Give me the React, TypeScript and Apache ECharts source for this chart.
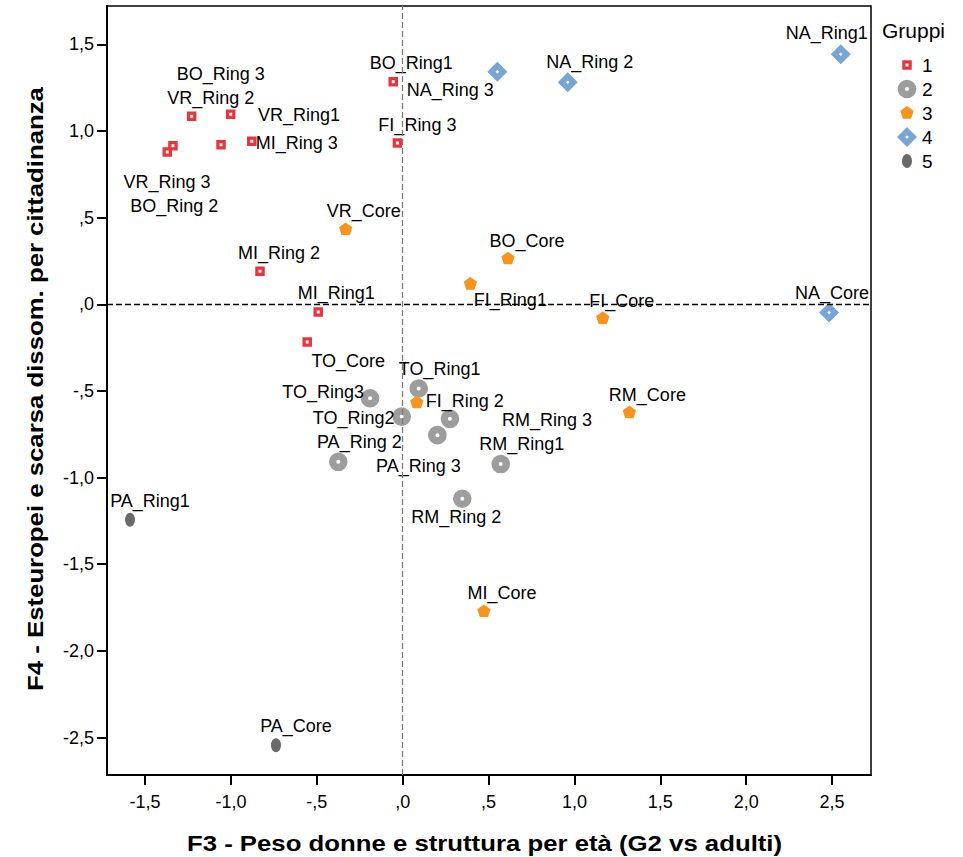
import React, { useEffect, useRef } from "react";
import * as echarts from "echarts";

const FONT = '"Liberation Sans", Arial, sans-serif';

const X_TICKS = [-1.5, -1, -0.5, 0, 0.5, 1, 1.5, 2, 2.5];
const X_TICK_LABELS = ["-1,5", "-1,0", "-,5", ",0", ",5", "1,0", "1,5", "2,0", "2,5"];
const Y_TICKS = [-2.5, -2, -1.5, -1, -0.5, 0, 0.5, 1, 1.5];
const Y_TICK_LABELS = ["-2,5", "-2,0", "-1,5", "-1,0", "-,5", ",0", ",5", "1,0", "1,5"];

const X_TITLE = "F3 - Peso donne e struttura per età (G2 vs adulti)";
const Y_TITLE = "F4 - Esteuropei e scarsa dissom. per cittadinanza";
const LEGEND_TITLE = "Gruppi";

const GROUPS = ["1", "2", "3", "4", "5"];

const G1_NAMES = ["BO_Ring1", "FI_Ring 3", "BO_Ring 3", "VR_Ring 2", "VR_Ring1", "MI_Ring 3", "VR_Ring 3", "BO_Ring 2", "MI_Ring 2", "MI_Ring1", "TO_Core"];
const G1_X = [-0.055, -0.031, -1.229, -1.002, -1.058, -0.879, -1.338, -1.371, -0.831, -0.492, -0.556];
const G1_Y = [1.284, 0.931, 1.085, 1.097, 0.92, 0.94, 0.914, 0.878, 0.19, -0.044, -0.217];

const G2_NAMES = ["TO_Ring1", "TO_Ring3", "TO_Ring2", "RM_Ring 3", "PA_Ring 3", "PA_Ring 2", "RM_Ring1", "RM_Ring 2"];
const G2_X = [0.093, -0.19, -0.006, 0.275, 0.202, -0.375, 0.571, 0.347];
const G2_Y = [-0.486, -0.542, -0.648, -0.661, -0.755, -0.909, -0.922, -1.122];

const G3_NAMES = ["VR_Core", "BO_Core", "FI_Ring1", "FI_Core", "FI_Ring 2", "RM_Core", "MI_Core"];
const G3_X = [-0.332, 0.613, 0.394, 1.165, 0.082, 1.32, 0.473];
const G3_Y = [0.432, 0.263, 0.117, -0.081, -0.567, -0.625, -1.772];

const G4_NAMES = ["NA_Ring 3", "NA_Ring 2", "NA_Ring1", "NA_Core"];
const G4_X = [0.551, 0.961, 2.551, 2.483];
const G4_Y = [1.341, 1.281, 1.443, -0.048];

const G5_NAMES = ["PA_Ring1", "PA_Core"];
const G5_X = [-1.588, -0.738];
const G5_Y = [-1.243, -2.544];

// label placement (pixel offsets of label centre from the marker)
const LABEL_OFFSETS: Record<string, [number, number]> = {
  "BO_Ring1": [18, -19],
  "FI_Ring 3": [20, -18],
  "BO_Ring 3": [29, -42],
  "VR_Ring 2": [-20, -16],
  "VR_Ring1": [78, -30],
  "MI_Ring 3": [45, 2],
  "VR_Ring 3": [-6, 36],
  "BO_Ring 2": [7, 54],
  "MI_Ring 2": [19, -18],
  "MI_Ring1": [18, -19],
  "TO_Core": [41, 19],
  "TO_Ring1": [21, -20],
  "TO_Ring3": [-47, -6],
  "TO_Ring2": [-48, 1],
  "RM_Ring 3": [97, 1],
  "PA_Ring 3": [-19, 31],
  "PA_Ring 2": [21, -20],
  "RM_Ring1": [21, -20],
  "RM_Ring 2": [-6, 18],
  "VR_Core": [18, -18],
  "BO_Core": [19, -18],
  "FI_Ring1": [40, 16],
  "FI_Core": [19, -17],
  "FI_Ring 2": [48, -2],
  "RM_Core": [18, -18],
  "MI_Core": [18, -18],
  "NA_Ring 3": [-47, 18],
  "NA_Ring 2": [22, -20],
  "NA_Ring1": [-14, -21],
  "NA_Core": [3, -20],
  "PA_Ring1": [20, -19],
  "PA_Core": [20, -19],
};

// symbols drawn in a 20x20 box (degenerate corner points fix the box)
const BOX = "M-10,-10L-10,-10M10,10L10,10";
const SYM_SQUARE = "path://" + BOX + "M-4.75,-4.75L4.75,-4.75L4.75,4.75L-4.75,4.75ZM-1.5,-1.5L-1.5,1.5L1.5,1.5L1.5,-1.5Z";
const SYM_RING = "path://" + BOX + "M0,-9.3A9.3,9.3,0,1,1,0,9.3A9.3,9.3,0,1,1,0,-9.3ZM0,-2A2,2,0,1,0,0,2A2,2,0,1,0,0,-2Z";
const SYM_PENTA = "path://" + BOX + "M0,-7L6.66,-2.16L4.11,5.66L-4.11,5.66L-6.66,-2.16Z";
const SYM_DIAMOND = "path://" + BOX + "M0,-10L10,0L0,10L-10,0ZM0,-1.8L-1.8,0L0,1.8L1.8,0Z";
const SYM_ELLIPSE = "path://" + BOX + "M0,-7A5,7,0,1,1,0,7A5,7,0,1,1,0,-7Z";

const SYMBOLS = [SYM_SQUARE, SYM_RING, SYM_PENTA, SYM_DIAMOND, SYM_ELLIPSE];
const COLORS = ["#e9343e", "#9d9d9d", "#f7941d", "#78a5d8", "#6a6a6a"];

const GROUP_DATA = [
  { names: G1_NAMES, xs: G1_X, ys: G1_Y },
  { names: G2_NAMES, xs: G2_X, ys: G2_Y },
  { names: G3_NAMES, xs: G3_X, ys: G3_Y },
  { names: G4_NAMES, xs: G4_X, ys: G4_Y },
  { names: G5_NAMES, xs: G5_X, ys: G5_Y },
];

function fmt(ticks: number[], labels: string[]) {
  return (v: number) => {
    const i = ticks.findIndex((t) => Math.abs(t - v) < 1e-9);
    return i >= 0 ? labels[i] : "";
  };
}

export default function App() {
  const ref = useRef<HTMLDivElement>(null);

  useEffect(() => {
    document.body.style.margin = "0";
    if (!ref.current) return;
    const chart = echarts.init(ref.current, null, { renderer: "svg" });

    const series: any[] = GROUP_DATA.map((g, gi) => ({
      type: "scatter",
      name: GROUPS[gi],
      symbol: SYMBOLS[gi],
      symbolSize: 20,
      itemStyle: { color: COLORS[gi], opacity: 1 },
      label: {
        show: true,
        position: "inside",
        formatter: "{b}",
        color: "#000",
        fontSize: 18,
        fontFamily: FONT,
        textBorderWidth: 0,
      },
      emphasis: { disabled: true },
      data: g.xs.map((x, i) => ({
        name: g.names[i],
        value: [x, g.ys[i]],
        label: { offset: LABEL_OFFSETS[g.names[i]] || [19, -19] },
      })),
    }));

    series[0].markLine = {
      silent: true,
      symbol: ["none", "none"],
      label: { show: false },
      animation: false,
      data: [
        { xAxis: 0, lineStyle: { color: "#7a7a7a", width: 1.3, type: [6, 3] } },
        { yAxis: 0, lineStyle: { color: "#000", width: 1.3, type: [6, 3] } },
      ],
    };

    chart.setOption({
      animation: false,
      backgroundColor: "#fff",
      title: {
        text: LEGEND_TITLE,
        left: 882,
        top: 20,
        padding: 0,
        textStyle: { fontSize: 21, fontWeight: "normal", color: "#000", fontFamily: FONT },
      },
      legend: {
        orient: "vertical",
        left: 897,
        top: 55,
        itemWidth: 20,
        itemHeight: 20,
        itemGap: 4,
        padding: 0,
        selectedMode: false,
        textStyle: { fontSize: 19, color: "#000", fontFamily: FONT },
        data: GROUPS.map((g, i) => ({ name: g, icon: SYMBOLS[i] })),
      },
      grid: {
        left: 107,
        right: 92,
        top: 6,
        bottom: 82,
        show: true,
        borderColor: "#000",
        borderWidth: 1.5,
        outerBoundsMode: "none",
      },
      xAxis: {
        type: "value",
        min: -1.722,
        max: 2.727,
        splitLine: { show: false },
        axisLine: { onZero: false, lineStyle: { color: "#000", width: 2 } },
        axisTick: { show: true, length: 10, lineStyle: { color: "#000", width: 2 }, customValues: X_TICKS },
        axisLabel: {
          customValues: X_TICKS,
          formatter: fmt(X_TICKS, X_TICK_LABELS),
          margin: 18,
          fontSize: 18,
          color: "#000",
          fontFamily: FONT,
        },
      },
      yAxis: {
        type: "value",
        min: -2.716,
        max: 1.721,
        splitLine: { show: false },
        axisLine: { onZero: false, lineStyle: { color: "#000", width: 2 } },
        axisTick: { show: true, length: 10, lineStyle: { color: "#000", width: 2 }, customValues: Y_TICKS },
        axisLabel: {
          customValues: Y_TICKS,
          formatter: fmt(Y_TICKS, Y_TICK_LABELS),
          margin: 13,
          fontSize: 18,
          color: "#000",
          fontFamily: FONT,
        },
      },
      graphic: [
        {
          type: "text",
          x: 484.5,
          y: 843,
          scaleX: 1.12,
          style: {
            text: X_TITLE,
            font: 'bold 23px "Liberation Sans", Arial, sans-serif',
            textAlign: "center",
            textVerticalAlign: "middle",
            fill: "#000",
          },
        },
        {
          type: "text",
          x: 35,
          y: 389,
          rotation: Math.PI / 2,
          scaleX: 1.12,
          style: {
            text: Y_TITLE,
            font: 'bold 23px "Liberation Sans", Arial, sans-serif',
            textAlign: "center",
            textVerticalAlign: "middle",
            fill: "#000",
          },
        },
      ],
      series,
    });

    return () => chart.dispose();
  }, []);

  return <div ref={ref} style={{ width: 963, height: 857 }} />;
}
